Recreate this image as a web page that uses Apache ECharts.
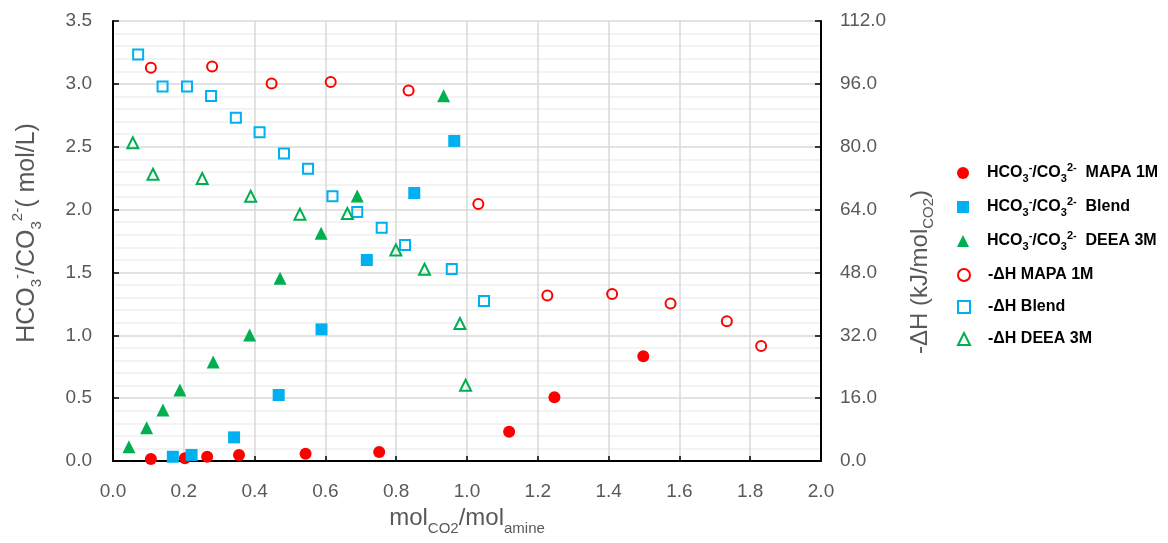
<!DOCTYPE html>
<html>
<head>
<meta charset="utf-8">
<script src="https://cdn.jsdelivr.net/npm/echarts@6/dist/echarts.min.js"></script>
<style>
html,body{margin:0;padding:0;background:#fff;}
#chart{width:1168px;height:543px;}
</style>
</head>
<body>
<div id="chart"></div>
<script>
// ---- data (x = mol CO2 / mol amine) ----
var mapaHcoX   = [0.107, 0.203, 0.266, 0.356, 0.544, 0.752, 1.119, 1.247, 1.498];
var mapaHcoY   = [0.016, 0.021, 0.034, 0.048, 0.058, 0.072, 0.233, 0.507, 0.833];
var blendHcoX  = [0.169, 0.222, 0.342, 0.468, 0.589, 0.717, 0.851, 0.964];
var blendHcoY  = [0.034, 0.048, 0.188, 0.525, 1.047, 1.599, 2.132, 2.546];
var deeaHcoX   = [0.045, 0.095, 0.141, 0.189, 0.283, 0.386, 0.472, 0.588, 0.690, 0.934];
var deeaHcoY   = [0.114, 0.265, 0.406, 0.565, 0.788, 1.002, 1.453, 1.811, 2.108, 2.906];
var mapaDhX    = [0.107, 0.280, 0.448, 0.615, 0.835, 1.032, 1.227, 1.410, 1.575, 1.734, 1.831];
var mapaDhY    = [100.1, 100.4, 96.1, 96.5, 94.3, 65.4, 42.1, 42.5, 40.1, 35.6, 29.3];
var blendDhX   = [0.071, 0.140, 0.209, 0.277, 0.347, 0.414, 0.483, 0.551, 0.620, 0.690, 0.759, 0.825, 0.957, 1.048];
var blendDhY   = [103.5, 95.3, 95.3, 92.9, 87.4, 83.7, 78.3, 74.4, 67.4, 63.4, 59.4, 55.0, 48.9, 40.7];
var deeaDhX    = [0.056, 0.113, 0.252, 0.389, 0.528, 0.662, 0.799, 0.880, 0.980, 0.996];
var deeaDhY    = [81.0, 73.0, 71.9, 67.4, 62.8, 63.0, 53.7, 48.8, 35.0, 19.3];

var seriesNames = [
  'HCO3-/CO32-  MAPA 1M',
  'HCO3-/CO32-  Blend',
  'HCO3-/CO32-  DEEA 3M',
  '-ΔH MAPA 1M',
  '-ΔH Blend',
  '-ΔH DEEA 3M'
];
var xTicks = {min: 0, max: 2, interval: 0.2};
var yLeftTicks = {min: 0, max: 3.5, interval: 0.5};
var yRightTicks = {min: 0, max: 112, interval: 16};

function pairs(xs, ys) { return xs.map(function (x, i) { return [x, ys[i]]; }); }

var RED = '#ff0000', BLUE = '#00b0f0', GREEN = '#00b050';
var FONT = '"Liberation Sans", Arial, sans-serif';
var GRAY = '#595959';

var chart = echarts.init(document.getElementById('chart'));

function legendFmt(name) {
  if (name.indexOf('HCO3') === 0) {
    var rest = name.replace('HCO3-/CO32-', '');
    return '{b|HCO}{bs|3}{bp|-}{b|/CO}{bs|3}{bp|2-}{b|' + rest + '}';
  }
  return '{b|' + name + '}';
}
var legendRich = {
  b: {fontSize: 16, fontWeight: 'bold', color: '#000', fontFamily: FONT, lineHeight: 22},
  bs: {fontSize: 11, fontWeight: 'bold', color: '#000', fontFamily: FONT, verticalAlign: 'bottom', lineHeight: 22},
  bp: {fontSize: 11, fontWeight: 'bold', color: '#000', fontFamily: FONT, verticalAlign: 'top', lineHeight: 22}
};
function makeLegend(names, top, gap) {
  return {
    orient: 'vertical',
    left: 952,
    top: top,
    itemWidth: 12,
    itemHeight: 12,
    itemGap: gap,
    data: names,
    formatter: legendFmt,
    textStyle: {color: '#000', padding: [0, 0, 0, 13], rich: legendRich}
  };
}

var filled = function (c) { return {color: c, opacity: 1}; };
var hollow = function (c) { return {color: 'rgba(255,255,255,0)', borderColor: c, borderWidth: 2, opacity: 1}; };

chart.setOption({
  animation: false,
  textStyle: {fontFamily: FONT},
  grid: {left: 113, right: 347, top: 21, bottom: 82, containLabel: false},
  legend: [
    makeLegend(seriesNames.slice(0, 3), 157, 12),
    makeLegend(seriesNames.slice(3), 262, 16)
  ],
  xAxis: {
    type: 'value',
    min: xTicks.min, max: xTicks.max, interval: xTicks.interval,
    name: '{n|mol}{s|CO2}{n|/mol}{s|amine}',
    nameLocation: 'middle',
    nameGap: 39,
    nameTextStyle: {
      rich: {
        n: {fontSize: 24, color: GRAY, fontFamily: FONT, lineHeight: 36},
        s: {fontSize: 15, color: GRAY, fontFamily: FONT, verticalAlign: 'bottom', lineHeight: 36}
      }
    },
    axisLine: {lineStyle: {color: '#000', width: 2}},
    axisTick: {inside: true, length: 5, lineStyle: {color: '#000', width: 1.5}},
    axisLabel: {fontSize: 19, color: GRAY, margin: 21, formatter: function (v) { return v.toFixed(1); }},
    splitLine: {show: true, lineStyle: {color: '#d9d9d9', width: 1.5}}
  },
  yAxis: [
    {
      type: 'value',
      position: 'left',
      min: yLeftTicks.min, max: yLeftTicks.max, interval: yLeftTicks.interval,
      name: '{n|HCO}{s|3}{p|-}{n|/CO}{s|3}{p|2-}{n|( mol/L)}',
      nameLocation: 'middle',
      nameGap: 69,
      nameTextStyle: {
        padding: [0, 0, 0, 16],
        rich: {
          n: {fontSize: 25, color: GRAY, fontFamily: FONT, lineHeight: 34},
          s: {fontSize: 15, color: GRAY, fontFamily: FONT, verticalAlign: 'bottom', lineHeight: 34},
          p: {fontSize: 15, color: GRAY, fontFamily: FONT, verticalAlign: 'top', lineHeight: 34}
        }
      },
      axisLine: {show: true, lineStyle: {color: '#000', width: 2}},
      axisTick: {show: true, inside: true, length: 6, lineStyle: {color: '#000', width: 1.5}},
      axisLabel: {fontSize: 19, color: GRAY, margin: 21, formatter: function (v) { return v.toFixed(1); }},
      splitLine: {show: true, lineStyle: {color: '#d9d9d9', width: 1.5}},
      minorTick: {show: false, splitNumber: 5},
      minorSplitLine: {show: true, lineStyle: {color: '#efefef', width: 1.5}}
    },
    {
      type: 'value',
      position: 'right',
      min: yRightTicks.min, max: yRightTicks.max, interval: yRightTicks.interval,
      name: '{n|-ΔH (kJ/mol}{s|CO2}{n|)}',
      nameLocation: 'middle',
      nameGap: 83,
      nameTextStyle: {
        padding: [0, 62, 0, 0],
        rich: {
          n: {fontSize: 24, color: GRAY, fontFamily: FONT, lineHeight: 32},
          s: {fontSize: 15, color: GRAY, fontFamily: FONT, verticalAlign: 'bottom', lineHeight: 32}
        }
      },
      axisLine: {show: true, lineStyle: {color: '#000', width: 2}},
      axisTick: {show: true, inside: true, length: 6, lineStyle: {color: '#000', width: 1.5}},
      axisLabel: {fontSize: 19, color: GRAY, margin: 19, formatter: function (v) { return v.toFixed(1); }},
      splitLine: {show: false}
    }
  ],
  series: [
    {name: seriesNames[0], type: 'scatter', yAxisIndex: 0, symbol: 'circle', symbolSize: 12, itemStyle: filled(RED), data: pairs(mapaHcoX, mapaHcoY)},
    {name: seriesNames[1], type: 'scatter', yAxisIndex: 0, symbol: 'rect', symbolSize: 12, itemStyle: filled(BLUE), data: pairs(blendHcoX, blendHcoY)},
    {name: seriesNames[2], type: 'scatter', yAxisIndex: 0, symbol: 'triangle', symbolSize: 13, itemStyle: filled(GREEN), data: pairs(deeaHcoX, deeaHcoY)},
    {name: seriesNames[3], type: 'scatter', yAxisIndex: 1, symbol: 'circle', symbolSize: 10, itemStyle: hollow(RED), data: pairs(mapaDhX, mapaDhY)},
    {name: seriesNames[4], type: 'scatter', yAxisIndex: 1, symbol: 'rect', symbolSize: 10, itemStyle: hollow(BLUE), data: pairs(blendDhX, blendDhY)},
    {name: seriesNames[5], type: 'scatter', yAxisIndex: 1, symbol: 'triangle', symbolSize: 11, itemStyle: hollow(GREEN), data: pairs(deeaDhX, deeaDhY)}
  ]
});
</script>
</body>
</html>
